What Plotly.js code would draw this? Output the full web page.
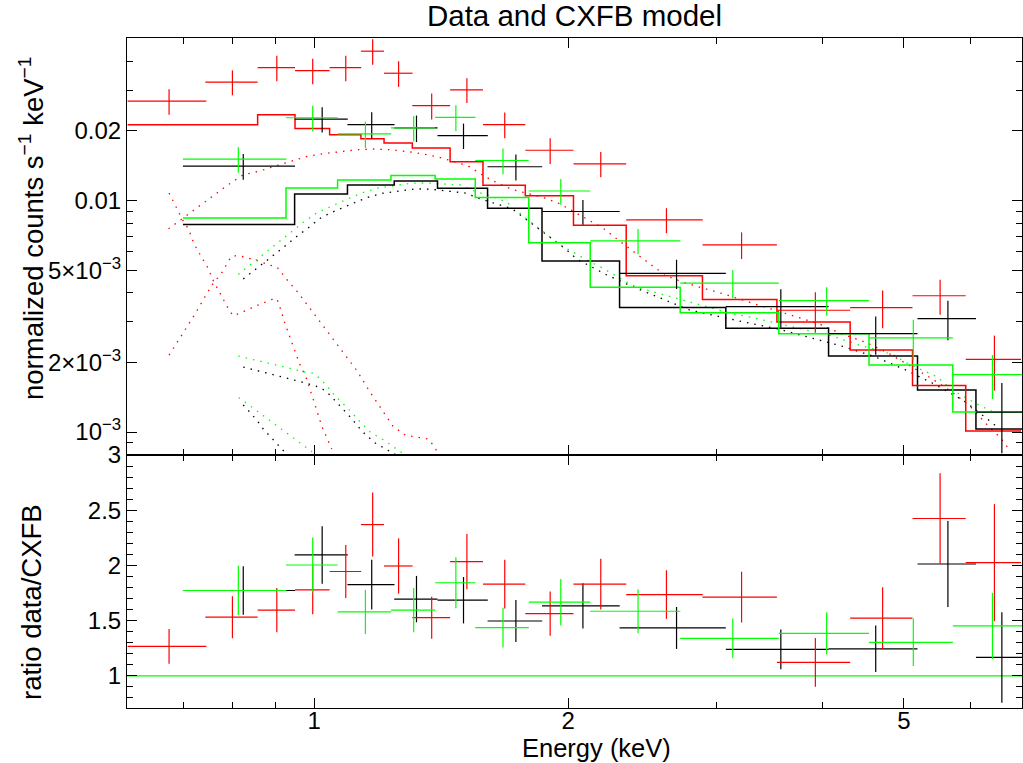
<!DOCTYPE html>
<html><head><meta charset="utf-8">
<script src="https://cdn.plot.ly/plotly-3.0.1.min.js"></script>
<style>html,body{margin:0;padding:0;background:#fff}#chart{width:1023px;height:763px}</style>
</head><body><div id="chart"></div>
<script>
// ---------- black data set ----------
const blackE = [0.824,1.022,1.170,1.322,1.503,1.734,2.082,2.688,3.573,4.629,5.637,6.531];
const blackHalfW = [0.125,0.074,0.075,0.078,0.103,0.129,0.220,0.387,0.498,0.559,0.449,0.446];
const blackFlux = [0.0141,0.0225,0.0213,0.0206,0.0191,0.0140,0.00897,0.00485,0.00348,0.00266,0.00309,0.00122];
const blackFluxErr = [0.0018,0.0028,0.0028,0.0027,0.0024,0.0018,0.0011,0.0007,0.00066,0.0005,0.0006,0.00041];
const blackModel = [0.00788,0.01068,0.01168,0.01216,0.0113,0.00927,0.00548,0.00345,0.00281,0.00213,0.00152,0.00103];
const blackRatio = [1.773,2.095,1.827,1.695,1.685,1.497,1.634,1.434,1.240,1.245,2.013,1.167];
const blackRatioErr = [0.22,0.26,0.225,0.21,0.21,0.19,0.205,0.19,0.18,0.21,0.39,0.41];

// ---------- red data set ----------
const redE = [0.673,0.800,0.903,0.996,1.090,1.173,1.259,1.378,1.517,1.682,1.904,2.186,2.615,3.210,3.926,4.717,5.518,6.400];
const redHalfW = [0.072,0.057,0.046,0.047,0.047,0.037,0.049,0.071,0.068,0.097,0.125,0.157,0.272,0.325,0.391,0.400,0.400,0.482];
const redFlux = [0.0269,0.0325,0.0375,0.0364,0.0375,0.0442,0.0355,0.0257,0.0301,0.0213,0.0165,0.0144,0.00825,0.00644,0.00336,0.00345,0.00388,0.00206];
const redFluxErr = [0.0034,0.0040,0.0047,0.0046,0.0047,0.0056,0.0045,0.0033,0.0037,0.0027,0.0021,0.0018,0.00102,0.00085,0.00066,0.00064,0.00067,0.00055];
const redModel = [0.02126,0.02126,0.02348,0.0205,0.01925,0.0185,0.01773,0.01687,0.01472,0.01166,0.0105,0.00782,0.00474,0.00374,0.00299,0.00226,0.00159,0.00101];
const redRatio = [1.267,1.531,1.595,1.779,1.945,2.370,1.995,1.527,2.034,1.831,1.564,1.831,1.736,1.713,1.122,1.522,2.425,2.025];
const redRatioErr = [0.158,0.19,0.20,0.22,0.24,0.29,0.25,0.19,0.25,0.22,0.20,0.23,0.22,0.23,0.22,0.28,0.41,0.53];

// ---------- green data set ----------
const greenE = [0.813,0.996,1.150,1.312,1.472,1.674,1.960,2.420,3.134,4.049,5.129,6.366];
const greenHalfW = [0.114,0.070,0.084,0.079,0.081,0.122,0.164,0.296,0.419,0.496,0.584,0.653];
const greenFlux = [0.0151,0.0228,0.0194,0.0206,0.0229,0.0149,0.0110,0.0067,0.0044,0.0037,0.00255,0.00177];
const greenFluxErr = [0.0019,0.0029,0.0025,0.0026,0.0029,0.0019,0.0014,0.00084,0.00061,0.00052,0.00051,0.00038];
const greenModel = [0.00842,0.01134,0.01228,0.01285,0.0124,0.01032,0.00657,0.00422,0.00328,0.00266,0.00195,0.00122];
const greenRatio = [1.773,2.004,1.579,1.595,1.843,1.436,1.667,1.585,1.340,1.385,1.304,1.452];
const greenRatioErr = [0.225,0.25,0.20,0.20,0.23,0.18,0.21,0.20,0.18,0.19,0.215,0.30];

// ---------- model components (dotted) ----------
const redCompBroadE = [0.672,0.710,0.736,0.763,0.791,0.824,0.859,0.897,0.937,0.978,1.026,1.070,1.124,1.172,1.228,1.285,1.341,1.402,1.463,1.528,1.587,1.654,1.720,1.800,1.878,1.957,2.038,2.118,2.202,2.284,2.364,2.452,2.543,2.637,2.753,2.881,3.070,3.278,3.497,3.733,3.979,4.233,4.510,4.793,5.062,5.382,5.686,5.979,6.297,6.501,6.680];
const redCompBroadF = [0.00755,0.00876,0.00961,0.01061,0.01172,0.01294,0.01337,0.01406,0.01477,0.01547,0.01595,0.01626,0.01659,0.01671,0.01659,0.01631,0.01595,0.01543,0.01477,0.01401,0.01281,0.01184,0.01115,0.01068,0.01026,0.00967,0.0089,0.0082,0.00758,0.00683,0.00621,0.00563,0.00508,0.00467,0.00441,0.0042,0.00393,0.00364,0.00339,0.00314,0.00292,0.00264,0.00244,0.00219,0.00195,0.00171,0.0015,0.0013,0.00106,0.000948,0.000831];
const redCompAE = [0.673,0.686,0.698,0.710,0.721,0.738,0.747,0.760,0.777,0.794,0.802,0.821,0.855,0.891,0.903,0.911,0.924,0.941,0.960,0.980,0.998,1.021,1.049];
const redCompAF = [0.01078,0.0093,0.00828,0.0075,0.00646,0.00557,0.00518,0.00448,0.00386,0.00333,0.00318,0.00329,0.00352,0.00374,0.00377,0.00345,0.00292,0.00244,0.00199,0.00169,0.00137,0.00106,0.000845];
const redCompBE = [0.673,0.689,0.707,0.723,0.739,0.756,0.777,0.797,0.810,0.824,0.859,0.887,0.903,0.928,0.954,0.980,1.007,1.035,1.064,1.093,1.124,1.163,1.208,1.240,1.282,1.335,1.366,1.385,1.404];
const redCompBF = [0.00215,0.00246,0.00287,0.00325,0.00374,0.0043,0.00487,0.00572,0.00579,0.00572,0.00548,0.00525,0.00518,0.00456,0.00406,0.00356,0.00312,0.00273,0.00239,0.0021,0.00184,0.0015,0.00122,0.00106,0.00097,0.000948,0.000933,0.000873,0.000804];

const blackCompBroadE = [0.824,0.855,0.887,0.918,0.949,0.985,1.021,1.063,1.106,1.155,1.206,1.262,1.321,1.381,1.445,1.510,1.576,1.643,1.716,1.779,1.844,1.913,1.984,2.051,2.140,2.223,2.316,2.364,2.790,2.982,3.257,3.557,3.888,4.240,4.610,5.0,5.434,5.881,6.315,6.432];
const blackCompBroadF = [0.00459,0.00508,0.00566,0.00625,0.00691,0.00765,0.00849,0.00908,0.00966,0.01031,0.01076,0.011,0.01124,0.01118,0.01096,0.01078,0.01015,0.0097,0.00921,0.00836,0.00758,0.00683,0.00619,0.00557,0.00513,0.00477,0.00446,0.0043,0.00336,0.00318,0.00297,0.00278,0.00255,0.00234,0.00212,0.00187,0.00161,0.00137,0.00112,0.00106];
const blackCompAE = [0.824,0.863,0.902,0.941,0.982,1.005,1.024,1.043,1.074,1.106,1.139,1.178,1.225,1.247];
const blackCompAF = [0.00191,0.00183,0.00176,0.00169,0.00162,0.00158,0.00153,0.00145,0.00129,0.00115,0.00101,0.000902,0.000831,0.000804];
const blackCompBE = [0.824,0.836,0.849,0.861,0.872,0.887,0.901,0.914,0.927];
const blackCompBF = [0.00131,0.00124,0.00116,0.00109,0.00102,0.000957,0.000902,0.000851,0.000804];

const greenCompBroadE = [0.813,0.844,0.875,0.905,0.937,0.971,1.007,1.049,1.093,1.142,1.192,1.246,1.304,1.362,1.426,1.489,1.552,1.624,1.692,1.751,1.814,1.882,1.948,2.024,2.105,2.193,2.284,2.373,2.423,2.760,2.881,3.014,3.147,3.286,3.433,3.586,3.750,3.924,4.097,4.279,4.465,4.665,4.859,5.062,5.265,5.479,5.682,5.908,6.155,6.361];
const greenCompBroadF = [0.0048,0.00535,0.00595,0.00657,0.00728,0.00806,0.00885,0.0095,0.01013,0.01082,0.01135,0.0116,0.0119,0.01192,0.01184,0.01168,0.01096,0.01043,0.00983,0.00885,0.00795,0.0072,0.0065,0.00601,0.00553,0.00513,0.00472,0.00434,0.0042,0.00368,0.00354,0.00339,0.00323,0.00314,0.00302,0.00292,0.0028,0.0027,0.00261,0.00248,0.00235,0.00226,0.00215,0.00197,0.00184,0.00173,0.00154,0.00141,0.0013,0.00123];
const greenCompAE = [0.813,0.851,0.891,0.928,0.971,0.994,1.012,1.028,1.059,1.093,1.128,1.165,1.208,1.253,1.276];
const greenCompAF = [0.00213,0.00205,0.00197,0.0019,0.00182,0.0018,0.00172,0.00163,0.00143,0.00128,0.00113,0.001,0.000926,0.000845,0.000804];
const greenCompBE = [0.814,0.844,0.875,0.907,0.941,0.976,0.994];
const greenCompBF = [0.00141,0.00128,0.00116,0.00105,0.000957,0.000864,0.000822];

// ---------- axes ----------
const xRange = [0.6, 6.9];
const xTickVals = [1, 2, 5];
const xTickText = ['1', '2', '5'];
const xMinorVals = [0.6, 0.7, 0.8, 0.9, 3, 4, 6];
const yTopRange = [0.000796, 0.0504];
const yTopTickVals = [0.001, 0.002, 0.005, 0.01, 0.02];
const yTopTickText = ['10<sup>\u22123</sup>', '2\u00d710<sup>\u22123</sup>', '5\u00d710<sup>\u22123</sup>', '0.01', '0.02'];
const yTopMinorVals = [0.0008, 0.0009, 0.003, 0.004, 0.006, 0.007, 0.008, 0.009, 0.03, 0.04];
const yBotRange = [0.709, 3.0];
const yBotTickVals = [1, 1.5, 2, 2.5, 3];
const yBotTickText = ['1', '1.5', '2', '2.5', '3'];
const yBotMinorVals = [0.8,0.9,1.1,1.2,1.3,1.4,1.6,1.7,1.8,1.9,2.1,2.2,2.3,2.4,2.6,2.7,2.8,2.9];
const ratioRef = 1;

const RED = '#ff0000', BLACK = '#000000', GREEN = '#00ff00';
const FONT = 'Liberation Sans, Arial, Helvetica, sans-serif';

function crosses(E, hw, y, yerr, color, xa, ya) {
  return {
    x: E, y: y, xaxis: xa, yaxis: ya, type: 'scatter', mode: 'markers',
    marker: {size: 1, color: 'rgba(0,0,0,0)'},
    error_x: {type: 'data', array: hw, visible: true, color: color, thickness: 1.2, width: 0},
    error_y: {type: 'data', array: yerr, visible: true, color: color, thickness: 1.2, width: 0},
    hoverinfo: 'skip', showlegend: false
  };
}
function steps(E, hw, m, color) {
  const xs = E.map((e, i) => e - hw[i]);
  xs.push(E[E.length - 1] + hw[hw.length - 1]);
  const ys = m.slice();
  ys.push(m[m.length - 1]);
  return {x: xs, y: ys, xaxis: 'x2', yaxis: 'y', type: 'scatter', mode: 'lines',
    line: {color: color, width: 1.5, shape: 'hv'}, hoverinfo: 'skip', showlegend: false};
}
function dotted(E, F, color) {
  return {x: E, y: F, xaxis: 'x2', yaxis: 'y', type: 'scatter', mode: 'lines',
    line: {color: color, width: 1.3, dash: '1.5px,6px'}, hoverinfo: 'skip', showlegend: false};
}

const traces = [
  dotted(redCompBroadE, redCompBroadF, RED),
  dotted(redCompAE, redCompAF, RED),
  dotted(redCompBE, redCompBF, RED),
  dotted(blackCompBroadE, blackCompBroadF, BLACK),
  dotted(blackCompAE, blackCompAF, BLACK),
  dotted(blackCompBE, blackCompBF, BLACK),
  dotted(greenCompBroadE, greenCompBroadF, GREEN),
  dotted(greenCompAE, greenCompAF, GREEN),
  dotted(greenCompBE, greenCompBF, GREEN),
  steps(blackE, blackHalfW, blackModel, BLACK),
  steps(redE, redHalfW, redModel, RED),
  steps(greenE, greenHalfW, greenModel, GREEN),
  crosses(blackE, blackHalfW, blackFlux, blackFluxErr, BLACK, 'x2', 'y'),
  crosses(redE, redHalfW, redFlux, redFluxErr, RED, 'x2', 'y'),
  crosses(greenE, greenHalfW, greenFlux, greenFluxErr, GREEN, 'x2', 'y'),
  crosses(blackE, blackHalfW, blackRatio, blackRatioErr, BLACK, 'x', 'y2'),
  crosses(redE, redHalfW, redRatio, redRatioErr, RED, 'x', 'y2'),
  crosses(greenE, greenHalfW, greenRatio, greenRatioErr, GREEN, 'x', 'y2')
];

const tickFont = {family: FONT, size: 24, color: '#000'};
const axBase = {
  showline: true, linecolor: '#000', linewidth: 1, mirror: 'ticks',
  ticks: 'inside', ticklen: 10, tickwidth: 1, tickcolor: '#000',
  showgrid: false, zeroline: false, tickfont: tickFont
};
const split = 253 / 670;

const layout = {
  width: 1023, height: 763,
  margin: {l: 127, r: 1, t: 38, b: 55, pad: 0},
  paper_bgcolor: '#fff', plot_bgcolor: '#fff',
  showlegend: false,
  title: {text: 'Data and CXFB model', font: {family: FONT, size: 29.5, color: '#000'},
    x: 0.5, xref: 'paper', y: 1 - 16 / 763, yref: 'container', yanchor: 'middle'},
  xaxis: Object.assign({}, axBase, {
    type: 'log', range: xRange.map(Math.log10), anchor: 'y2', domain: [0, 1],
    tickmode: 'array', tickvals: xTickVals, ticktext: xTickText, ticklabelstandoff: -9,
    minor: {tickmode: 'array', tickvals: xMinorVals, ticks: 'inside', ticklen: 6, tickcolor: '#000', tickwidth: 1}
  }),
  xaxis2: Object.assign({}, axBase, {
    type: 'log', range: xRange.map(Math.log10), anchor: 'y', matches: 'x', showticklabels: false,
    tickmode: 'array', tickvals: xTickVals,
    minor: {tickmode: 'array', tickvals: xMinorVals, ticks: 'inside', ticklen: 6, tickcolor: '#000', tickwidth: 1}
  }),
  yaxis: Object.assign({}, axBase, {
    type: 'log', range: yTopRange.map(Math.log10), domain: [split, 1], anchor: 'x2',
    tickmode: 'array', tickvals: yTopTickVals, ticktext: yTopTickText,
    minor: {tickmode: 'array', tickvals: yTopMinorVals, ticks: 'inside', ticklen: 6, tickcolor: '#000', tickwidth: 1}
  }),
  yaxis2: Object.assign({}, axBase, {
    type: 'linear', range: yBotRange, domain: [0, split], anchor: 'x',
    tickmode: 'array', tickvals: yBotTickVals, ticktext: yBotTickText,
    minor: {tickmode: 'array', tickvals: yBotMinorVals, ticks: 'inside', ticklen: 6, tickcolor: '#000', tickwidth: 1}
  }),
  shapes: [{type: 'line', xref: 'paper', x0: 0, x1: 1, yref: 'y2', y0: ratioRef, y1: ratioRef,
    line: {color: GREEN, width: 1.3}, layer: 'below'}],
  annotations: [
    {text: 'Energy (keV)', xref: 'paper', yref: 'paper', x: (596 - 127) / 895, y: -(748 - 708) / 670,
      xanchor: 'center', yanchor: 'middle', showarrow: false, font: {family: FONT, size: 25.5, color: '#000'}},
    {text: 'normalized counts s<sup>\u22121</sup> keV<sup>\u22121</sup>', xref: 'paper', yref: 'paper',
      x: (31 - 127) / 895, y: (708 - 228) / 670, textangle: -90, xanchor: 'center', yanchor: 'middle',
      showarrow: false, font: {family: FONT, size: 27.5, color: '#000'}},
    {text: 'ratio data/CXFB', xref: 'paper', yref: 'paper',
      x: (31 - 127) / 895, y: (708 - 602) / 670, textangle: -90, xanchor: 'center', yanchor: 'middle',
      showarrow: false, font: {family: FONT, size: 27.5, color: '#000'}}
  ]
};

Plotly.newPlot('chart', traces, layout, {staticPlot: true, displayModeBar: false});
</script>
</body></html>
